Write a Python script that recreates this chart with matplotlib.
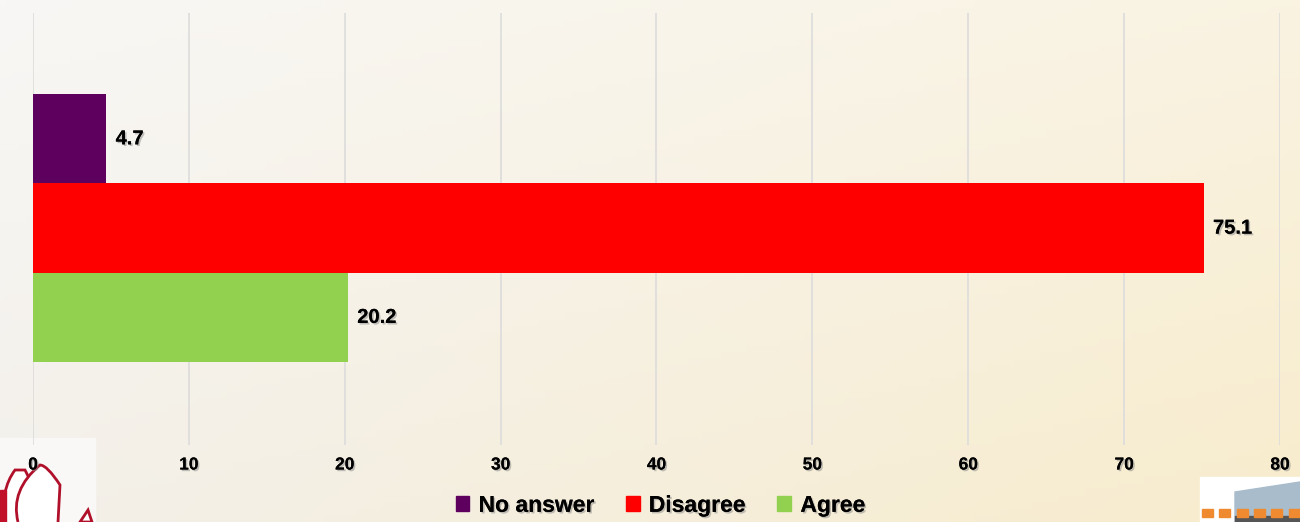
import numpy as np
import matplotlib.pyplot as plt
import matplotlib.patheffects as pe
from matplotlib.patches import Rectangle, Polygon, PathPatch
from matplotlib.path import Path

# answers, drawn top to bottom
labels = ['No answer', 'Disagree', 'Agree']
values = [4.7, 75.1, 20.2]
colors = ['#5e005e', '#ff0000', '#92d050']
xticks = [0, 10, 20, 30, 40, 50, 60, 70, 80]

plt.rcParams['font.family'] = ['Liberation Sans', 'DejaVu Sans']

fig = plt.figure(figsize=(13, 5.22), dpi=100)

# background gradient over the whole figure
bg = fig.add_axes([0, 0, 1, 1], zorder=-10)
tl = np.array([248, 247, 245]) / 255
tr = np.array([250, 243, 226]) / 255
bl = np.array([243, 240, 234]) / 255
br = np.array([248, 236, 204]) / 255
u = np.linspace(0, 1, 200)[None, :, None]
v = np.linspace(0, 1, 80)[:, None, None]
img = (1 - v) * ((1 - u) * tl + u * tr) + v * ((1 - u) * bl + u * br)
bg.imshow(img, aspect='auto', extent=[0, 1, 0, 1])
bg.set_axis_off()

# corner logos (decoration, figure pixel coords), under the chart text
deco = fig.add_axes([0, 0, 1, 1], zorder=-5)
deco.set_xlim(0, 1300)
deco.set_ylim(522, 0)
deco.set_axis_off()
deco.patch.set_alpha(0)

deco.add_patch(Rectangle((0, 438), 95, 84, color='#f9f8f7', zorder=1))
flame1 = Path([(5, 522), (0, 490), (15, 470), (25, 470), (28, 476), (35, 490), (40, 522)],
              [Path.MOVETO, Path.CURVE3, Path.CURVE3, Path.LINETO, Path.CURVE3, Path.CURVE3, Path.LINETO])
deco.add_patch(PathPatch(flame1, facecolor='white', edgecolor='#b0102a', linewidth=2, zorder=2))
flame2 = Path([(18, 522), (10, 490), (40, 465), (47, 465), (60, 485), (58, 522)],
              [Path.MOVETO, Path.CURVE3, Path.CURVE3, Path.CURVE3, Path.CURVE3, Path.LINETO])
deco.add_patch(PathPatch(flame2, facecolor='white', edgecolor='#b0102a', linewidth=2, zorder=3))
deco.add_patch(Polygon([(80, 522), (88, 510), (92, 522)], closed=True,
                       facecolor='white', edgecolor='#b0102a', linewidth=2, zorder=3))
deco.add_patch(Rectangle((0, 490), 6, 32, color='#c0102a', zorder=4))

deco.add_patch(Rectangle((1200, 477), 100, 45, color='white', zorder=1))
deco.add_patch(Polygon([(1235, 492), (1300, 482), (1300, 522), (1235, 522)], closed=True,
                       color='#a9bccb', zorder=2))
deco.add_patch(Rectangle((1235, 516), 65, 6, color='#555555', zorder=3))
for k in range(6):
    deco.add_patch(Rectangle((1202 + k * 17.3, 509), 11, 8, color='#f08a30', zorder=4))

shadow = [pe.withSimplePatchShadow(offset=(1.2, -1.2), shadow_rgbFace='#888888', alpha=0.5), pe.Normal()]

ax = fig.add_axes([0.02538, 0.1475, 0.95923, 0.8276])
ax.patch.set_alpha(0)
ypos = np.arange(len(values))[::-1]
ax.barh(ypos, values, height=1.0, color=colors, zorder=3)
for y, val in zip(ypos, values):
    ax.text(val + 0.6, y, f'{val}', va='center', ha='left', fontsize=14.5,
            fontweight='bold', path_effects=shadow, zorder=4)

ax.set_xlim(0, 80)
ax.set_ylim(-1.43, 3.41)
ax.set_xticks(xticks)
ax.set_yticks([])
ax.grid(axis='x', color='#dcdcdc', linewidth=1.2, zorder=0)
for s in ax.spines.values():
    s.set_visible(False)
ax.tick_params(axis='x', length=0, pad=9, labelsize=12.5)
for t in ax.get_xticklabels():
    t.set_fontweight('bold')
    t.set_path_effects(shadow)

handles = [Rectangle((0, 0), 1, 1, color=c) for c in colors]
leg = fig.legend(handles, labels, loc='center', bbox_to_anchor=(0.508, 0.032), ncol=3,
                 frameon=False, handlelength=0.6, handleheight=0.6, handletextpad=0.4,
                 columnspacing=1.4, prop={'size': 16.5, 'weight': 'bold'})
for t in leg.get_texts():
    t.set_path_effects(shadow)

fig.savefig('out.png', dpi=100)
